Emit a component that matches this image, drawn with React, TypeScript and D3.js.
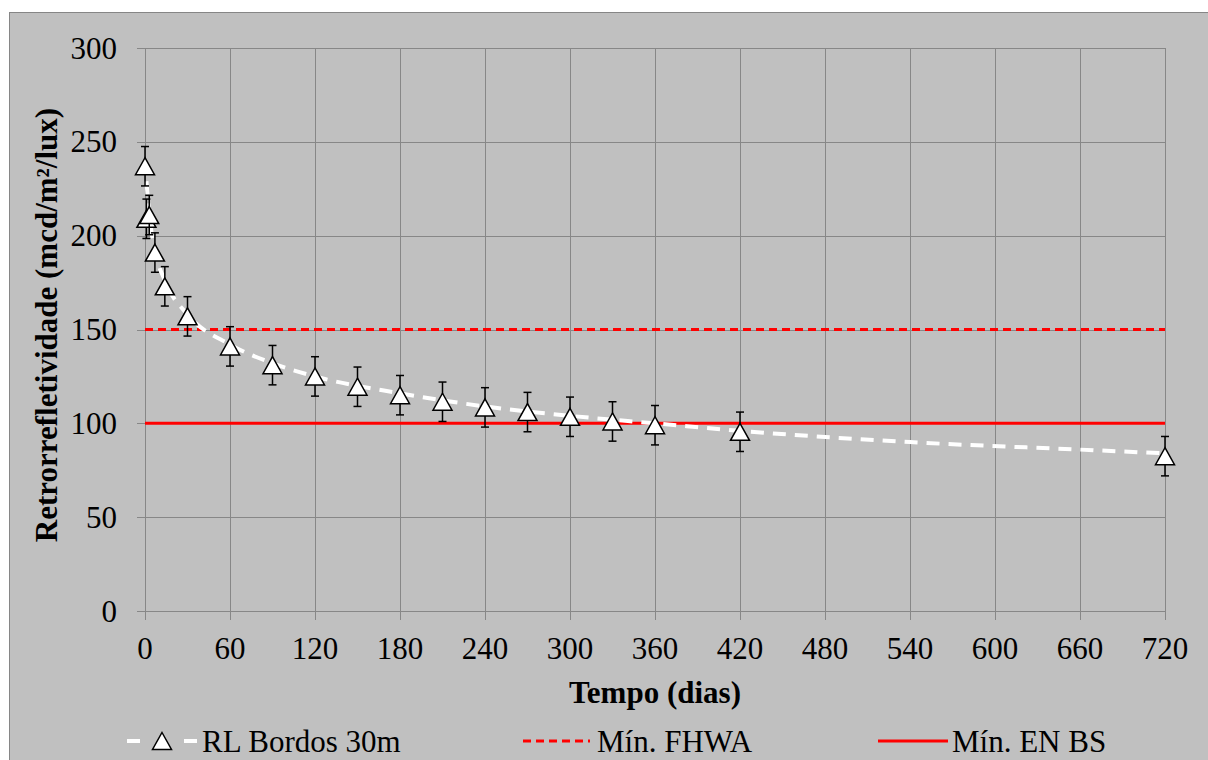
import React from "react";
import * as d3 from "d3";

const days = [0, 1, 3, 7, 14, 30, 60, 90, 120, 150, 180, 210, 240, 270, 300, 330, 360, 420, 720];
const rlValues = [237, 209, 211, 191, 173, 157, 141, 131, 125, 119.5, 115, 111.5, 108.5, 106, 103.5, 101, 99, 95.5, 82.5];
const rlErrors = [10.5, 10.5, 10.5, 10.5, 10.5, 10.5, 10.5, 10.5, 10.5, 10.5, 10.5, 10.5, 10.5, 10.5, 10.5, 10.5, 10.5, 10.5, 10.5];

const trendDays = [1, 2, 4, 7, 14, 30, 60, 90, 120, 180, 240, 300, 360, 420, 540, 660, 720];
const trendValues = [229, 220, 205, 192, 176, 158, 142, 132, 125, 116, 109, 104, 100, 96, 90, 86, 84];

const fhwaMin = 150;
const enbsMin = 100;

const xTicks = [0, 60, 120, 180, 240, 300, 360, 420, 480, 540, 600, 660, 720];
const yTicks = [0, 50, 100, 150, 200, 250, 300];

const legendLabels = ["RL Bordos 30m", "Mín. FHWA", "Mín. EN BS"];
const xTitle = "Tempo (dias)";
const yTitle = "Retrorrefletividade (mcd/m²/lux)";

export default function App() {
  const W = 1208, H = 760;
  const x = d3.scaleLinear().domain([0, 720]).range([145, 1165]);
  const y = d3.scaleLinear().domain([0, 300]).range([611, 48]);
  const grid = "#878787";

  const trendLine = d3
    .line<number>()
    .x((_, i) => x(trendDays[i]))
    .y((d) => y(d))
    .curve(d3.curveMonotoneX)(trendValues) as string;

  const tri = (cx: number, cy: number) => {
    const w = 9.5, h = 17;
    return `M${cx},${cy - h / 2}L${cx + w},${cy + h / 2}L${cx - w},${cy + h / 2}Z`;
  };

  return (
    <svg width={W} height={H} style={{ position: "absolute", left: 0, top: 0 }}>
      <rect x={9.5} y={12.5} width={W - 9} height={H - 12} fill="#c0c0c0" stroke="#868686" strokeWidth={1} />
      {yTicks.map((t) => (
        <line key={"gy" + t} x1={137} x2={x(720)} y1={Math.round(y(t)) + 0.5} y2={Math.round(y(t)) + 0.5} stroke={grid} strokeWidth={1} />
      ))}
      {xTicks.map((t) => (
        <line key={"gx" + t} x1={Math.round(x(t)) + 0.5} x2={Math.round(x(t)) + 0.5} y1={y(300)} y2={620} stroke={grid} strokeWidth={1} />
      ))}
      {yTicks.map((t) => (
        <text key={"ty" + t} x={117} y={y(t) + 10.5} fontSize={31} textAnchor="end" style={{ fontFamily: "Liberation Serif" }}>
          {String(t)}
        </text>
      ))}
      {xTicks.map((t) => (
        <text key={"tx" + t} x={x(t)} y={659} fontSize={31} textAnchor="middle" style={{ fontFamily: "Liberation Serif" }}>
          {String(t)}
        </text>
      ))}
      <line x1={x(0)} x2={x(720)} y1={y(fhwaMin)} y2={y(fhwaMin)} stroke="#ff0000" strokeWidth={3} strokeDasharray="8,5" />
      <line x1={x(0)} x2={x(720)} y1={y(enbsMin)} y2={y(enbsMin)} stroke="#ff0000" strokeWidth={3} />
      <path d={trendLine} fill="none" stroke="#ffffff" strokeWidth={4} strokeDasharray="13,9" />
      {days.map((d, i) => {
        const cx = x(d);
        const top = y(rlValues[i] + rlErrors[i]);
        const bot = y(rlValues[i] - rlErrors[i]);
        return (
          <g key={"p" + i}>
            <line x1={cx} x2={cx} y1={top} y2={bot} stroke="#000" strokeWidth={1.5} />
            <line x1={cx - 4} x2={cx + 4} y1={top} y2={top} stroke="#000" strokeWidth={1.5} />
            <line x1={cx - 4} x2={cx + 4} y1={bot} y2={bot} stroke="#000" strokeWidth={1.5} />
            <path d={tri(cx, y(rlValues[i]))} fill="#fff" stroke="#000" strokeWidth={1.5} />
          </g>
        );
      })}
      <text x={655} y={703} fontSize={31} fontWeight="bold" textAnchor="middle" style={{ fontFamily: "Liberation Serif" }}>
        {xTitle}
      </text>
      <text x={0} y={0} fontSize={31} fontWeight="bold" textAnchor="middle" transform="translate(57,325) rotate(-90)" style={{ fontFamily: "Liberation Serif" }}>
        {yTitle}
      </text>
      <line x1={127} x2={140} y1={741} y2={741} stroke="#fff" strokeWidth={4} />
      <line x1={184} x2={197} y1={741} y2={741} stroke="#fff" strokeWidth={4} />
      <path d={tri(162, 741)} fill="#fff" stroke="#000" strokeWidth={1.5} />
      <text x={202} y={752} fontSize={31} style={{ fontFamily: "Liberation Serif" }}>{legendLabels[0]}</text>
      <line x1={523} x2={590} y1={741} y2={741} stroke="#ff0000" strokeWidth={3} strokeDasharray="8,5" />
      <text x={597} y={752} fontSize={31} style={{ fontFamily: "Liberation Serif" }}>{legendLabels[1]}</text>
      <line x1={878} x2={948} y1={741} y2={741} stroke="#ff0000" strokeWidth={3} />
      <text x={952} y={752} fontSize={31} style={{ fontFamily: "Liberation Serif" }}>{legendLabels[2]}</text>
    </svg>
  );
}
